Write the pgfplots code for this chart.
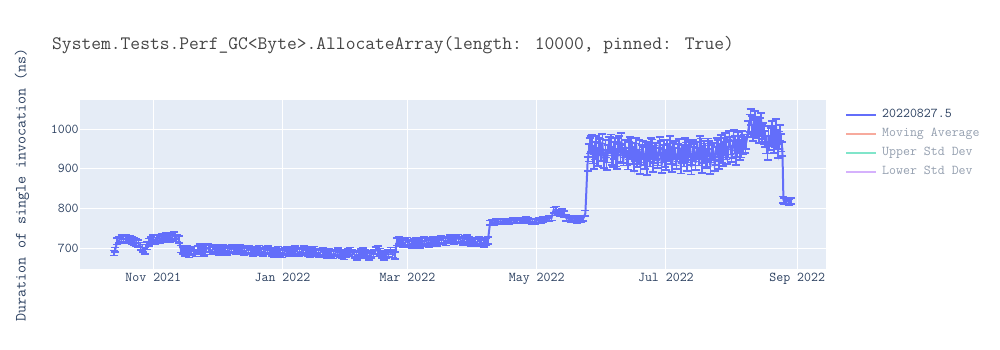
\documentclass[border=0pt]{standalone}
\usepackage{pgfplots}
\pgfplotsset{compat=1.18}
\usepackage{pgfplotstable}
\usepackage{fontspec}
\renewcommand{\familydefault}{\ttdefault}
\definecolor{bgcol}{HTML}{E5ECF6}
\definecolor{linecol}{HTML}{636EFA}
\definecolor{txtcol}{HTML}{2A3F5F}
\definecolor{titcol}{HTML}{444444}
\definecolor{hidtxt}{HTML}{949FAF}
\definecolor{macol}{HTML}{F7AA9D}
\definecolor{upcol}{HTML}{80E5CA}
\definecolor{locol}{HTML}{D5B1FC}

\pgfplotstableread[row sep=\\]{
x y e \\
-18.5 688 6 \\ -18 696 6 \\ -17 717 8 \\ -16 721 8 \\ -15 724 9 \\ -14 722 9 \\ -13 725 9 \\ -12 721 9 \\
-11 723 9 \\ -10 719 9 \\ -9 716 9 \\ -8 714 9 \\ -7 712 9 \\ -6 705 9 \\ -5 700 9 \\ -4 694 8 \\
-3 706 9 \\ -2 715 9 \\ -1 720 9 \\ 0 724 9 \\ 1 718 9 \\ 2 726 9 \\ 3 722 9 \\ 4 728 9 \\
5 725 9 \\ 6 730 9 \\ 7 727 9 \\ 8 724 9 \\ 9 729 9 \\ 10 732 9 \\ 11 726 9 \\ 12 722 9 \\
13 698 9 \\ 14 694 9 \\ 15 690 9 \\ 16 696 9 \\ 17 686 9 \\ 18 692 9 \\ 19 695 9 \\ 20 688 9 \\
21 697 9 \\ 22 702 9 \\ 23 694 9 \\ 24 690 9 \\ 25 698 9 \\ 26 701 9 \\ 27 693 9 \\ 28 696 9 \\
29 700 9 \\ 30 695 9 \\ 31 691 9 \\ 32 697 9 \\ 33 699 9 \\ 34 694 9 \\ 35 692 9 \\ 36 696 9 \\
37 700 9 \\ 38 697 9 \\ 39 693 9 \\ 40 695 9 \\ 41 699 9 \\ 42 696 9 \\ 43 692 9 \\ 44 694 9 \\
45 697 9 \\ 46 695 9 \\ 47 690 9 \\ 48 693 9 \\ 49 695 9 \\ 50 698 9 \\ 51 692 9 \\ 52 689 9 \\
53 694 9 \\ 54 697 9 \\ 55 693 9 \\ 56 690 9 \\ 57 687 9 \\ 58 692 9 \\ 59 695 9 \\ 60 689 9 \\
61 686 9 \\ 62 691 9 \\ 63 694 9 \\ 64 690 9 \\ 65 688 9 \\ 66 693 9 \\ 67 696 9 \\ 68 691 9 \\
69 688 9 \\ 70 692 9 \\ 71 697 9 \\ 72 694 9 \\ 73 690 9 \\ 74 687 9 \\ 75 692 9 \\ 76 695 9 \\
77 689 9 \\ 78 686 9 \\ 79 690 9 \\ 80 693 9 \\ 81 688 9 \\ 82 685 9 \\ 83 689 9 \\ 84 686 9 \\
85 683 9 \\ 86 688 9 \\ 87 692 9 \\ 88 687 9 \\ 89 684 9 \\ 90 681 9 \\ 91 686 9 \\ 92 690 9 \\
93 693 9 \\ 94 688 9 \\ 95 684 9 \\ 96 680 9 \\ 97 685 9 \\ 98 689 9 \\ 99 692 9 \\ 100 687 9 \\
101 683 9 \\ 102 679 9 \\ 103 684 9 \\ 104 688 9 \\ 105 694 9 \\ 106 696 9 \\ 107 690 9 \\ 108 684 9 \\
109 680 9 \\ 110 683 9 \\ 111 687 9 \\ 112 693 9 \\ 113 686 9 \\ 114 682 9 \\
115 716 9 \\ 116 720 9 \\ 117 714 9 \\ 118 711 9 \\ 119 715 9 \\ 120 718 9 \\ 121 712 9 \\ 122 709 9 \\
123 714 9 \\ 124 717 9 \\ 125 713 9 \\ 126 710 9 \\ 127 715 9 \\ 128 719 9 \\ 129 716 9 \\ 130 712 9 \\
131 717 9 \\ 132 721 9 \\ 133 718 9 \\ 134 714 9 \\ 135 719 9 \\ 136 723 9 \\ 137 720 9 \\ 138 716 9 \\
139 721 9 \\ 140 725 9 \\ 141 722 9 \\ 142 718 9 \\ 143 723 9 \\ 144 726 9 \\ 145 721 9 \\ 146 717 9 \\
147 722 9 \\ 148 724 9 \\ 149 719 9 \\ 150 715 9 \\ 151 718 9 \\ 152 713 9 \\ 153 716 9 \\ 154 719 9 \\
155 714 9 \\ 156 712 9 \\ 157 717 9 \\ 158 720 9 \\
159 764 6 \\ 160 766 6 \\ 161 765 6 \\ 162 767 6 \\ 163 766 6 \\ 164 768 6 \\ 165 767 6 \\ 166 769 6 \\
167 768 6 \\ 168 767 6 \\ 169 769 6 \\ 170 770 6 \\ 171 768 6 \\ 172 770 6 \\ 173 771 6 \\ 174 769 6 \\
175 771 6 \\ 176 772 6 \\ 177 770 6 \\ 178 768 6 \\ 179 766 6 \\ 180 767 6 \\ 181 769 6 \\ 182 771 6 \\
183 770 6 \\ 184 772 6 \\ 185 774 6 \\ 186 773 6 \\ 187 775 6 \\ 188 776 6 \\
189 796 7 \\ 190 798 7 \\ 191 790 7 \\ 192 788 7 \\ 193 791 7 \\ 194 786 7 \\ 195 776 7 \\ 196 774 7 \\
197 772 7 \\ 198 775 7 \\ 199 773 7 \\ 200 771 7 \\ 201 774 7 \\ 202 772 7 \\ 203 775 7 \\ 204 788 7 \\
205 912 18 \\ 205.5 940 22 \\ 206 958 20 \\ 206.5 962 20 \\ 207 965 20 \\ 207.5 935 22 \\ 208 918 18 \\ 208.5 945 22 \\
209 962 20 \\ 209.5 930 22 \\ 210 925 18 \\ 210.5 958 20 \\ 211 955 20 \\ 211.5 942 22 \\ 212 968 20 \\ 212.5 925 22 \\
213 920 18 \\ 213.5 950 22 \\ 214 915 18 \\ 214.5 938 22 \\ 215 960 20 \\ 215.5 960 20 \\ 216 966 20 \\ 216.5 932 22 \\
217 922 18 \\ 217.5 946 22 \\ 218 957 20 \\ 218.5 928 22 \\ 219 918 18 \\ 219.5 955 22 \\ 220 962 20 \\ 220.5 940 22 \\
221 970 20 \\ 221.5 936 22 \\ 222 926 18 \\ 222.5 950 22 \\ 223 952 20 \\ 223.5 930 22 \\ 224 916 18 \\ 224.5 945 22 \\
225 960 20 \\ 225.5 958 20 \\ 226 945 20 \\ 226.5 934 22 \\ 227 912 18 \\ 227.5 942 22 \\ 228 958 20 \\ 228.5 926 22 \\
229 930 18 \\ 229.5 950 22 \\ 230 905 18 \\ 230.5 938 22 \\ 231 950 20 \\ 231.5 932 22 \\ 232 918 18 \\ 232.5 946 22 \\
233 902 18 \\ 233.5 940 22 \\ 234 948 20 \\ 234.5 928 22 \\ 235 958 20 \\ 235.5 952 22 \\ 236 910 18 \\ 236.5 936 22 \\
237 945 20 \\ 237.5 944 22 \\ 238 920 18 \\ 238.5 930 22 \\ 239 960 20 \\ 239.5 948 22 \\ 240 908 18 \\ 240.5 938 22 \\
241 952 20 \\ 241.5 926 22 \\ 242 915 18 \\ 242.5 950 22 \\ 243 944 20 \\ 243.5 942 22 \\ 244 962 20 \\ 244.5 934 22 \\
245 910 18 \\ 245.5 946 22 \\ 246 950 20 \\ 246.5 930 22 \\ 247 918 18 \\ 247.5 940 22 \\ 248 955 20 \\ 248.5 952 22 \\
249 906 18 \\ 249.5 936 22 \\ 250 940 20 \\ 250.5 928 22 \\ 251 958 20 \\ 251.5 944 22 \\ 252 912 18 \\ 252.5 938 22 \\
253 948 20 \\ 253.5 950 22 \\ 254 904 18 \\ 254.5 932 22 \\ 255 952 20 \\ 255.5 940 22 \\ 256 915 18 \\ 256.5 946 22 \\
257 946 20 \\ 257.5 930 22 \\ 258 962 20 \\ 258.5 954 22 \\ 259 908 18 \\ 259.5 936 22 \\ 260 950 20 \\ 260.5 942 22 \\
261 920 18 \\ 261.5 928 22 \\ 262 956 20 \\ 262.5 948 22 \\ 263 905 18 \\ 263.5 938 22 \\ 264 945 20 \\ 264.5 944 22 \\
265 912 18 \\ 265.5 932 22 \\ 266 958 20 \\ 266.5 950 22 \\ 267 918 18 \\ 267.5 940 22 \\ 268 965 20 \\ 268.5 936 22 \\
269 925 18 \\ 269.5 955 22 \\ 270 970 20 \\ 270.5 945 22 \\ 271 930 18 \\ 271.5 950 22 \\ 272 975 20 \\ 272.5 958 22 \\
273 935 18 \\ 273.5 948 22 \\ 274 978 20 \\ 274.5 960 22 \\ 275 928 18 \\ 275.5 952 22 \\ 276 972 20 \\ 276.5 962 22 \\
277 940 18 \\ 277.5 950 22 \\ 278 975 20 \\ 278.5 958 22 \\ 279 968 18 \\ 279.5 960 20 \\ 280 968 18 \\
281 1000 20 \\ 281.5 1015 22 \\ 282 1030 20 \\ 282.5 1010 22 \\ 283 990 20 \\ 283.5 1005 22 \\ 284 1025 20 \\ 284.5 1000 22 \\
285 1010 20 \\ 285.5 998 22 \\ 286 985 20 \\ 286.5 1005 22 \\ 287 1020 20 \\ 287.5 990 22 \\ 288 995 20 \\ 288.5 985 22 \\
289 975 20 \\ 289.5 960 22 \\ 290 940 18 \\ 290.5 985 22 \\ 291 965 18 \\ 291.5 980 22 \\ 292 1000 20 \\ 292.5 985 22 \\
293 960 20 \\ 293.5 975 22 \\ 294 1005 20 \\ 294.5 970 22 \\ 295 945 18 \\ 295.5 972 22 \\ 296 990 20 \\ 296.5 965 22 \\
297 950 18 \\ 297.5 822 8 \\ 298 818 8 \\ 299 820 8 \\ 300 816 8 \\ 301 819 8 \\
}\datatable

\begin{document}
\begin{tikzpicture}
\useasboundingbox (0pt,0pt) rectangle (1000pt,350pt);
\begin{axis}[
  at={(80pt,80.7pt)}, anchor=south west,
  scale only axis, width=746pt, height=169.3pt,
  xmin=-34.6, xmax=317.6, ymin=647, ymax=1073,
  axis background/.style={fill=bgcol},
  axis line style={draw=none},
  major tick length=0pt,
  grid=major, grid style={white, line width=1pt},
  xtick={0,61,120,181,242,304},
  xticklabels={Nov 2021, Jan 2022, Mar 2022, May 2022, Jul 2022, Sep 2022},
  ytick={700,800,900,1000},
  tick label style={font=\fontsize{13.5}{15}\selectfont, text=txtcol},
  /pgf/number format/assume math mode=true,
  /pgf/number format/1000 sep={},
  yticklabel style={xshift=2.2pt},
  legend image code/.code={\draw[#1] (0pt,0pt) -- (30pt,0pt);},
  legend cell align=left,
  legend style={at={(axis description cs:1.0255,0.9468)}, anchor=north west,
    draw=none, fill=none, inner sep=0pt, row sep=7pt, column sep=5pt,
    font=\fontsize{13.5}{15}\selectfont,
    nodes={inner sep=0pt, text height=8.5pt, text depth=3.5pt}},
]
\addplot[color=linecol, line width=2pt, no markers, forget plot,
  error bars/.cd, y dir=both, y explicit,
  error bar style={line width=1.6pt, draw=linecol},
  error mark options={rotate=90, line width=1.6pt, mark size=4pt, draw=linecol}]
  table[x=x, y=y, y error=e] \datatable;
\addlegendimage{linecol, line width=2pt}
\addlegendentry{\textcolor{txtcol}{20220827.5}}
\addlegendimage{macol, line width=2pt}
\addlegendentry{\textcolor{hidtxt}{Moving Average}}
\addlegendimage{upcol, line width=2pt}
\addlegendentry{\textcolor{hidtxt}{Upper Std Dev}}
\addlegendimage{locol, line width=2pt}
\addlegendentry{\textcolor{hidtxt}{Lower Std Dev}}
\end{axis}
\node[anchor=base west, inner sep=0pt, text=titcol, font=\fontsize{19}{22}\selectfont] at (52pt,300.5pt)
  {System.Tests.Perf\_GC<Byte>.AllocateArray(length: 10000, pinned: True)};
\node[rotate=90, text=txtcol, font=\fontsize{15.6}{18}\selectfont] at (22pt,165.3pt)
  {Duration of single invocation (ns)};
\end{tikzpicture}
\end{document}
